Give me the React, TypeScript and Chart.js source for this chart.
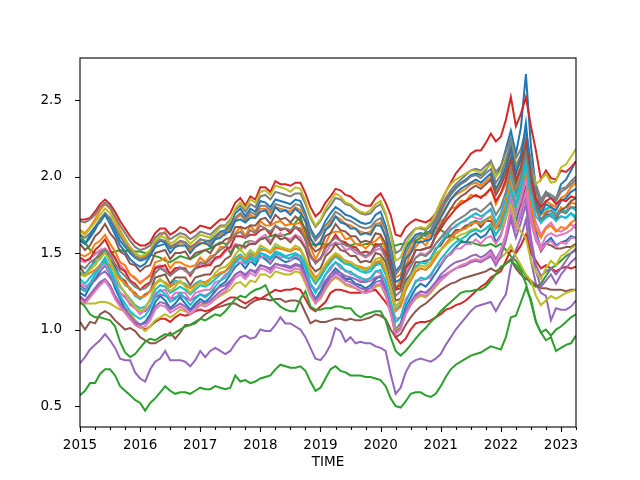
import { useEffect, useRef } from 'react'
import { Chart, registerables } from 'chart.js'

Chart.register(...registerables)

// monthly values, Jan 2015 .. Apr 2023 (100 months)
const blueA = [1.58,1.56,1.60,1.65,1.72,1.76,1.72,1.65,1.58,1.54,1.50,1.47,
  1.45,1.46,1.49,1.55,1.58,1.57,1.53,1.55,1.58,1.57,1.53,1.56,
  1.59,1.58,1.58,1.61,1.64,1.65,1.69,1.76,1.79,1.74,1.79,1.77,
  1.84,1.83,1.80,1.85,1.84,1.83,1.82,1.85,1.84,1.76,1.66,1.60,
  1.64,1.71,1.76,1.80,1.78,1.75,1.74,1.72,1.70,1.69,1.70,1.75,
  1.77,1.68,1.55,1.38,1.42,1.53,1.58,1.62,1.63,1.62,1.65,1.71,
  1.78,1.84,1.89,1.93,1.96,1.98,2.01,2.02,2.01,2.04,2.10,2.00,
  2.06,2.18,2.30,2.15,2.32,2.67,2.20,1.92,1.82,1.90,1.86,1.85,
  1.95,1.98,2.04,2.10]
const orangeA = [1.65,1.63,1.67,1.72,1.78,1.82,1.79,1.72,1.65,1.59,1.54,1.50,
  1.47,1.48,1.51,1.57,1.61,1.64,1.55,1.54,1.57,1.56,1.52,1.55,
  1.57,1.56,1.56,1.59,1.62,1.62,1.66,1.72,1.75,1.71,1.75,1.73,
  1.79,1.79,1.76,1.80,1.79,1.78,1.77,1.80,1.78,1.70,1.60,1.54,
  1.58,1.65,1.70,1.74,1.72,1.69,1.68,1.66,1.64,1.63,1.64,1.69,
  1.70,1.60,1.47,1.34,1.36,1.47,1.53,1.58,1.60,1.59,1.62,1.68,
  1.75,1.80,1.85,1.88,1.90,1.92,1.95,1.96,1.94,1.97,2.00,1.90,
  1.96,2.05,2.18,2.02,2.10,2.24,2.00,1.85,1.78,1.84,1.82,1.80,
  1.86,1.88,1.93,1.96]
const greenA = [1.62,1.57,1.52,1.50,1.51,1.52,1.50,1.51,1.52,1.51,1.52,1.51,
  1.51,1.50,1.49,1.48,1.47,1.45,1.44,1.46,1.48,1.47,1.46,1.48,
  1.50,1.52,1.53,1.55,1.57,1.56,1.50,1.55,1.52,1.57,1.58,1.57,
  1.59,1.60,1.61,1.62,1.61,1.62,1.63,1.70,1.74,1.62,1.56,1.55,
  1.56,1.56,1.55,1.56,1.56,1.56,1.55,1.56,1.55,1.56,1.56,1.55,
  1.56,1.56,1.55,1.55,1.56,1.56,1.57,1.58,1.60,1.64,1.63,1.67,
  1.65,1.63,1.61,1.60,1.58,1.57,1.57,1.56,1.55,1.55,1.56,1.54,
  1.56,1.52,1.48,1.45,1.40,1.35,1.30,1.28,1.30,1.35,1.40,1.42,
  1.45,1.48,1.50,1.52]
const redA = [1.72,1.72,1.73,1.77,1.82,1.85,1.82,1.77,1.71,1.66,1.61,1.57,
  1.55,1.55,1.57,1.63,1.66,1.66,1.62,1.64,1.67,1.66,1.63,1.65,
  1.68,1.67,1.66,1.69,1.72,1.72,1.76,1.83,1.86,1.81,1.87,1.85,
  1.93,1.93,1.90,1.97,1.95,1.95,1.94,1.96,1.96,1.89,1.80,1.74,
  1.77,1.83,1.87,1.92,1.91,1.88,1.87,1.84,1.82,1.81,1.81,1.86,
  1.89,1.83,1.75,1.62,1.61,1.67,1.70,1.72,1.71,1.70,1.72,1.76,
  1.83,1.90,1.96,2.02,2.06,2.10,2.15,2.17,2.17,2.22,2.28,2.23,
  2.26,2.37,2.52,2.33,2.41,2.52,2.33,2.17,1.98,2.04,1.99,1.98,
  2.04,2.03,2.06,2.10]
const purpleA = [0.78,0.82,0.87,0.90,0.93,0.97,0.93,0.88,0.81,0.80,0.80,0.72,
  0.68,0.66,0.74,0.79,0.81,0.86,0.80,0.80,0.80,0.79,0.76,0.80,
  0.86,0.82,0.86,0.88,0.86,0.84,0.86,0.91,0.95,0.96,0.94,0.95,
  1.00,0.99,0.99,1.03,1.08,1.04,1.04,1.02,1.00,0.95,0.88,0.81,
  0.80,0.84,0.90,1.01,0.99,0.92,0.95,0.91,0.92,0.91,0.91,0.89,
  0.88,0.86,0.71,0.58,0.62,0.72,0.78,0.80,0.81,0.80,0.79,0.81,
  0.84,0.90,0.95,1.00,1.04,1.08,1.12,1.15,1.16,1.17,1.18,1.12,
  1.18,1.23,1.41,1.52,1.60,1.72,1.45,1.30,1.24,1.22,1.06,1.14,
  1.13,1.13,1.15,1.19]
const brownA = [1.05,1.00,1.05,1.04,1.10,1.12,1.10,1.06,1.03,1.00,1.01,0.99,
  0.95,0.93,0.91,0.91,0.93,0.95,0.98,0.94,0.98,1.03,1.03,1.04,
  1.07,1.10,1.12,1.14,1.15,1.16,1.17,1.17,1.15,1.14,1.17,1.19,
  1.20,1.20,1.19,1.20,1.20,1.18,1.19,1.19,1.18,1.11,1.04,1.06,
  1.05,1.05,1.06,1.07,1.07,1.06,1.07,1.06,1.06,1.07,1.08,1.10,
  1.09,1.07,1.00,0.95,0.97,1.03,1.08,1.12,1.15,1.17,1.20,1.23,
  1.26,1.28,1.30,1.31,1.33,1.34,1.35,1.36,1.37,1.38,1.40,1.38,
  1.40,1.43,1.46,1.40,1.36,1.33,1.32,1.29,1.27,1.27,1.26,1.26,
  1.26,1.25,1.26,1.26]
const pinkA = [1.45,1.44,1.47,1.49,1.52,1.53,1.50,1.46,1.42,1.39,1.36,1.33,
  1.31,1.33,1.36,1.41,1.42,1.39,1.37,1.40,1.41,1.38,1.37,1.40,
  1.43,1.41,1.44,1.46,1.47,1.51,1.53,1.56,1.55,1.53,1.58,1.57,
  1.60,1.62,1.58,1.61,1.63,1.60,1.59,1.62,1.60,1.54,1.47,1.44,
  1.47,1.50,1.55,1.57,1.56,1.52,1.53,1.50,1.49,1.47,1.49,1.52,
  1.53,1.47,1.38,1.28,1.30,1.37,1.42,1.47,1.50,1.49,1.52,1.56,
  1.60,1.62,1.66,1.67,1.70,1.71,1.74,1.73,1.72,1.76,1.78,1.70,
  1.74,1.82,1.92,1.80,1.88,1.98,1.82,1.70,1.62,1.67,1.70,1.65,
  1.64,1.66,1.69,1.66]
const grayA = [1.71,1.70,1.72,1.75,1.80,1.83,1.80,1.74,1.68,1.63,1.58,1.54,
  1.52,1.53,1.55,1.60,1.63,1.63,1.59,1.61,1.63,1.62,1.59,1.61,
  1.64,1.63,1.62,1.65,1.68,1.68,1.72,1.78,1.81,1.77,1.82,1.80,
  1.87,1.88,1.85,1.90,1.89,1.88,1.87,1.89,1.89,1.82,1.73,1.67,
  1.71,1.77,1.81,1.86,1.85,1.82,1.81,1.78,1.76,1.75,1.76,1.80,
  1.82,1.75,1.64,1.50,1.52,1.59,1.63,1.66,1.66,1.65,1.68,1.73,
  1.80,1.86,1.91,1.95,1.98,2.01,2.04,2.05,2.04,2.07,2.10,2.03,
  2.07,2.16,2.25,2.12,2.18,2.30,2.10,1.95,1.85,1.90,1.88,1.86,
  1.92,1.93,1.97,2.00]
const oliveA = [1.64,1.62,1.66,1.70,1.75,1.79,1.76,1.70,1.63,1.58,1.53,1.50,
  1.48,1.49,1.52,1.58,1.61,1.60,1.56,1.58,1.61,1.60,1.56,1.59,
  1.62,1.61,1.60,1.63,1.67,1.67,1.71,1.79,1.83,1.79,1.85,1.83,
  1.90,1.91,1.88,1.94,1.93,1.92,1.90,1.93,1.92,1.84,1.74,1.68,
  1.72,1.79,1.84,1.89,1.87,1.83,1.82,1.79,1.77,1.76,1.78,1.82,
  1.84,1.76,1.62,1.45,1.47,1.56,1.61,1.66,1.67,1.66,1.70,1.76,
  1.84,1.90,1.95,1.98,2.00,2.02,2.04,2.04,2.02,2.05,2.08,2.00,
  2.04,2.12,2.22,2.08,2.14,2.25,2.05,1.95,1.98,2.02,1.96,1.97,
  2.06,2.08,2.13,2.18]
const cyanA = [1.33,1.30,1.34,1.38,1.42,1.47,1.40,1.33,1.28,1.24,1.20,1.16,
  1.14,1.15,1.19,1.26,1.29,1.28,1.24,1.26,1.28,1.26,1.23,1.26,
  1.29,1.28,1.30,1.33,1.36,1.38,1.42,1.47,1.49,1.46,1.50,1.48,
  1.53,1.52,1.50,1.54,1.53,1.52,1.51,1.53,1.52,1.45,1.36,1.30,
  1.34,1.40,1.45,1.48,1.46,1.43,1.42,1.40,1.38,1.37,1.38,1.42,
  1.43,1.36,1.25,1.13,1.16,1.26,1.32,1.38,1.40,1.39,1.42,1.47,
  1.52,1.56,1.60,1.63,1.65,1.67,1.70,1.71,1.70,1.72,1.74,1.67,
  1.72,1.80,1.93,1.82,1.95,2.13,1.93,1.80,1.72,1.74,1.76,1.72,
  1.74,1.73,1.76,1.74]
const blueB = [1.24,1.22,1.28,1.33,1.38,1.42,1.36,1.27,1.20,1.14,1.10,1.06,
  1.03,1.05,1.10,1.18,1.22,1.19,1.14,1.17,1.21,1.17,1.13,1.17,
  1.20,1.18,1.21,1.25,1.29,1.31,1.36,1.41,1.44,1.40,1.45,1.42,
  1.48,1.46,1.43,1.48,1.46,1.44,1.45,1.47,1.45,1.36,1.26,1.20,
  1.25,1.31,1.36,1.40,1.37,1.33,1.33,1.30,1.29,1.27,1.29,1.33,
  1.35,1.27,1.14,1.00,1.04,1.15,1.21,1.27,1.30,1.28,1.32,1.37,
  1.42,1.47,1.50,1.54,1.57,1.57,1.61,1.63,1.60,1.62,1.67,1.57,
  1.62,1.73,1.86,1.70,1.83,2.02,1.78,1.64,1.53,1.57,1.60,1.55,
  1.57,1.58,1.61,1.60]
const orangeB = [1.49,1.48,1.50,1.56,1.58,1.62,1.56,1.51,1.44,1.42,1.36,1.34,
  1.30,1.33,1.35,1.44,1.45,1.47,1.40,1.44,1.44,1.42,1.41,1.42,
  1.47,1.44,1.48,1.49,1.54,1.54,1.60,1.63,1.67,1.61,1.68,1.64,
  1.71,1.68,1.68,1.70,1.71,1.68,1.69,1.69,1.70,1.60,1.54,1.46,
  1.52,1.56,1.63,1.64,1.64,1.59,1.60,1.56,1.56,1.53,1.56,1.58,
  1.61,1.52,1.42,1.27,1.32,1.41,1.50,1.54,1.58,1.55,1.60,1.63,
  1.71,1.73,1.79,1.80,1.84,1.84,1.88,1.87,1.87,1.88,1.93,1.82,
  1.89,1.95,2.09,1.94,2.04,2.14,1.96,1.81,1.75,1.77,1.81,1.75,
  1.80,1.77,1.83,1.82]
const greenB = [0.57,0.60,0.65,0.65,0.71,0.74,0.74,0.70,0.63,0.60,0.57,0.54,
  0.52,0.47,0.52,0.55,0.59,0.63,0.60,0.58,0.59,0.59,0.58,0.60,
  0.62,0.61,0.61,0.63,0.62,0.61,0.62,0.70,0.66,0.67,0.65,0.66,
  0.68,0.69,0.70,0.74,0.77,0.76,0.75,0.75,0.76,0.73,0.66,0.60,
  0.62,0.68,0.74,0.76,0.73,0.72,0.70,0.70,0.70,0.69,0.69,0.68,
  0.67,0.63,0.55,0.50,0.49,0.53,0.58,0.59,0.59,0.57,0.56,0.58,
  0.63,0.69,0.74,0.77,0.79,0.81,0.83,0.84,0.85,0.87,0.89,0.88,
  0.87,0.95,1.08,1.09,1.18,1.27,1.20,1.05,0.98,0.93,0.95,0.86,
  0.88,0.90,0.91,0.96]
const redB = [1.21,1.18,1.22,1.26,1.30,1.32,1.28,1.22,1.16,1.11,1.07,1.04,
  1.02,1.00,1.02,1.05,1.07,1.07,1.05,1.08,1.10,1.09,1.10,1.12,
  1.13,1.12,1.13,1.15,1.17,1.19,1.21,1.21,1.19,1.17,1.19,1.21,
  1.20,1.22,1.24,1.26,1.25,1.26,1.26,1.27,1.26,1.20,1.14,1.12,
  1.15,1.18,1.24,1.26,1.26,1.25,1.24,1.24,1.24,1.25,1.25,1.26,
  1.22,1.18,1.13,0.95,0.91,0.94,1.00,1.04,1.05,1.05,1.06,1.08,
  1.10,1.13,1.14,1.16,1.17,1.19,1.22,1.25,1.28,1.30,1.34,1.36,
  1.38,1.45,1.52,1.50,1.55,1.62,1.50,1.45,1.40,1.42,1.40,1.38,
  1.40,1.41,1.40,1.41]
const purpleB = [1.29,1.26,1.30,1.32,1.36,1.38,1.34,1.29,1.24,1.21,1.17,1.14,
  1.12,1.12,1.16,1.21,1.23,1.22,1.20,1.21,1.22,1.21,1.19,1.21,
  1.23,1.22,1.24,1.26,1.28,1.29,1.32,1.36,1.38,1.36,1.39,1.38,
  1.42,1.41,1.40,1.43,1.42,1.42,1.41,1.43,1.42,1.36,1.29,1.25,
  1.28,1.32,1.36,1.38,1.37,1.35,1.34,1.33,1.31,1.31,1.32,1.34,
  1.35,1.27,1.13,0.99,1.03,1.12,1.18,1.23,1.25,1.24,1.27,1.31,
  1.36,1.39,1.42,1.44,1.45,1.46,1.48,1.49,1.47,1.49,1.52,1.46,
  1.52,1.62,1.75,1.65,1.75,1.88,1.60,1.42,1.35,1.38,1.40,1.36,
  1.40,1.45,1.50,1.53]
const brownB = [1.41,1.36,1.40,1.46,1.48,1.52,1.46,1.41,1.34,1.32,1.26,1.24,
  1.20,1.23,1.25,1.34,1.35,1.36,1.30,1.34,1.34,1.34,1.29,1.34,
  1.35,1.36,1.36,1.41,1.42,1.46,1.48,1.55,1.55,1.54,1.56,1.56,
  1.59,1.60,1.56,1.62,1.59,1.60,1.57,1.61,1.58,1.53,1.42,1.38,
  1.40,1.48,1.51,1.56,1.52,1.51,1.48,1.48,1.44,1.45,1.44,1.50,
  1.49,1.44,1.30,1.19,1.20,1.32,1.36,1.44,1.44,1.45,1.46,1.53,
  1.55,1.60,1.61,1.65,1.65,1.68,1.68,1.71,1.67,1.71,1.71,1.66,
  1.69,1.78,1.87,1.77,1.81,1.93,1.71,1.61,1.51,1.56,1.55,1.53,
  1.53,1.54,1.54,1.56]
const pinkB = [1.31,1.28,1.30,1.36,1.39,1.43,1.37,1.32,1.24,1.22,1.16,1.14,
  1.10,1.13,1.15,1.24,1.25,1.26,1.20,1.24,1.24,1.24,1.19,1.24,
  1.25,1.26,1.26,1.31,1.32,1.36,1.37,1.44,1.44,1.43,1.45,1.45,
  1.47,1.48,1.44,1.50,1.47,1.48,1.45,1.49,1.46,1.41,1.30,1.26,
  1.28,1.36,1.39,1.44,1.40,1.39,1.36,1.36,1.32,1.33,1.32,1.38,
  1.37,1.32,1.18,1.07,1.08,1.20,1.24,1.32,1.32,1.33,1.34,1.41,
  1.43,1.48,1.49,1.53,1.53,1.56,1.56,1.59,1.56,1.60,1.61,1.56,
  1.61,1.73,1.87,1.75,1.85,1.99,1.74,1.61,1.54,1.61,1.63,1.61,
  1.62,1.63,1.65,1.69]
const grayB = [1.62,1.60,1.63,1.67,1.72,1.76,1.73,1.67,1.61,1.56,1.52,1.48,
  1.46,1.47,1.50,1.56,1.59,1.58,1.54,1.56,1.58,1.57,1.54,1.56,
  1.59,1.58,1.57,1.60,1.63,1.64,1.67,1.73,1.76,1.72,1.77,1.75,
  1.81,1.81,1.78,1.82,1.81,1.80,1.79,1.82,1.81,1.74,1.64,1.58,
  1.62,1.68,1.72,1.77,1.75,1.72,1.71,1.69,1.67,1.66,1.67,1.71,
  1.73,1.65,1.52,1.36,1.40,1.50,1.56,1.60,1.62,1.61,1.64,1.70,
  1.77,1.83,1.88,1.92,1.95,1.97,2.00,2.01,1.99,2.02,2.05,1.96,
  2.01,2.10,2.22,2.06,2.14,2.28,2.05,1.90,1.82,1.88,1.86,1.84,
  1.90,1.92,1.95,1.98]
const oliveB = [1.17,1.17,1.17,1.17,1.18,1.18,1.17,1.15,1.13,1.12,1.11,1.06,
  1.02,0.99,1.02,1.06,1.08,1.10,1.08,1.10,1.13,1.12,1.10,1.13,
  1.16,1.17,1.18,1.20,1.22,1.24,1.26,1.30,1.31,1.28,1.32,1.31,
  1.36,1.36,1.34,1.38,1.37,1.36,1.36,1.38,1.37,1.30,1.22,1.17,
  1.20,1.26,1.31,1.34,1.32,1.29,1.28,1.27,1.25,1.24,1.25,1.28,
  1.29,1.22,1.12,1.00,1.02,1.10,1.16,1.20,1.22,1.21,1.24,1.28,
  1.32,1.35,1.38,1.40,1.42,1.43,1.45,1.46,1.45,1.46,1.48,1.44,
  1.47,1.50,1.55,1.48,1.42,1.36,1.32,1.22,1.16,1.19,1.22,1.20,
  1.22,1.24,1.25,1.26]
const cyanB = [1.37,1.36,1.41,1.44,1.46,1.51,1.44,1.39,1.35,1.29,1.27,1.22,
  1.20,1.22,1.25,1.30,1.33,1.30,1.28,1.32,1.31,1.30,1.27,1.30,
  1.32,1.30,1.33,1.35,1.37,1.38,1.41,1.45,1.47,1.44,1.48,1.46,
  1.50,1.49,1.47,1.51,1.50,1.48,1.49,1.50,1.48,1.43,1.35,1.30,
  1.35,1.40,1.44,1.48,1.45,1.43,1.43,1.40,1.40,1.38,1.40,1.43,
  1.44,1.37,1.27,1.15,1.18,1.29,1.35,1.41,1.44,1.43,1.47,1.52,
  1.57,1.61,1.65,1.68,1.70,1.72,1.74,1.76,1.74,1.76,1.79,1.70,
  1.76,1.86,2.00,1.87,1.98,2.18,1.95,1.82,1.76,1.79,1.80,1.76,
  1.78,1.77,1.80,1.78]
const blueC = [1.59,1.56,1.62,1.67,1.70,1.75,1.69,1.62,1.55,1.51,1.46,1.43,
  1.41,1.43,1.48,1.54,1.55,1.56,1.50,1.54,1.55,1.55,1.50,1.54,
  1.56,1.57,1.54,1.59,1.60,1.63,1.64,1.71,1.72,1.70,1.73,1.73,
  1.77,1.78,1.73,1.80,1.77,1.78,1.75,1.79,1.76,1.71,1.59,1.55,
  1.57,1.65,1.68,1.74,1.70,1.69,1.66,1.66,1.62,1.63,1.62,1.68,
  1.68,1.61,1.46,1.31,1.33,1.46,1.50,1.57,1.57,1.58,1.59,1.67,
  1.73,1.79,1.85,1.89,1.92,1.94,1.96,1.98,1.96,1.99,2.02,1.92,
  1.98,2.06,2.18,2.02,2.12,2.35,2.00,1.84,1.76,1.82,1.80,1.78,
  1.84,1.86,1.90,1.92]
const orangeC = [1.36,1.35,1.37,1.39,1.42,1.44,1.42,1.37,1.33,1.30,1.27,1.23,
  1.21,1.22,1.25,1.30,1.32,1.31,1.28,1.30,1.31,1.29,1.27,1.29,
  1.31,1.31,1.33,1.35,1.37,1.38,1.42,1.46,1.48,1.46,1.49,1.48,
  1.52,1.52,1.50,1.53,1.53,1.52,1.51,1.53,1.52,1.46,1.39,1.34,
  1.37,1.42,1.46,1.49,1.47,1.45,1.44,1.42,1.41,1.40,1.41,1.44,
  1.45,1.38,1.26,1.12,1.15,1.26,1.32,1.38,1.40,1.39,1.42,1.47,
  1.52,1.56,1.60,1.63,1.65,1.66,1.69,1.70,1.69,1.71,1.74,1.66,
  1.72,1.82,1.96,1.80,1.92,2.05,1.82,1.66,1.60,1.66,1.68,1.64,
  1.67,1.66,1.70,1.72]
const greenC = [1.18,1.15,1.10,1.08,1.08,1.07,1.06,1.02,0.92,0.85,0.82,0.84,
  0.88,0.92,0.94,0.93,0.95,0.97,0.96,0.98,1.00,1.02,1.03,1.05,
  1.07,1.06,1.08,1.10,1.09,1.12,1.16,1.20,1.22,1.21,1.24,1.26,
  1.27,1.29,1.22,1.18,1.15,1.13,1.12,1.12,1.20,1.25,1.15,1.13,
  1.13,1.14,1.14,1.15,1.15,1.14,1.14,1.10,1.08,1.10,1.11,1.12,
  1.12,1.06,0.95,0.86,0.83,0.86,0.90,0.94,0.98,1.01,1.05,1.08,
  1.12,1.15,1.18,1.21,1.24,1.25,1.25,1.26,1.26,1.28,1.32,1.36,
  1.41,1.43,1.45,1.42,1.38,1.30,1.18,1.05,0.98,1.00,0.96,1.00,
  1.02,1.05,1.08,1.10]
const redC = [1.47,1.45,1.46,1.52,1.55,1.59,1.52,1.47,1.40,1.38,1.32,1.30,
  1.26,1.29,1.31,1.40,1.41,1.42,1.36,1.40,1.40,1.40,1.35,1.40,
  1.41,1.42,1.42,1.47,1.48,1.52,1.54,1.61,1.61,1.60,1.62,1.62,
  1.65,1.66,1.62,1.68,1.65,1.66,1.63,1.67,1.64,1.59,1.48,1.44,
  1.46,1.54,1.57,1.62,1.58,1.57,1.54,1.54,1.50,1.51,1.50,1.56,
  1.55,1.50,1.37,1.26,1.27,1.40,1.44,1.52,1.52,1.53,1.54,1.61,
  1.66,1.71,1.75,1.79,1.82,1.84,1.86,1.88,1.86,1.89,1.92,1.84,
  1.89,1.98,2.12,1.98,2.06,2.22,1.98,1.86,1.80,1.84,1.86,1.82,
  1.85,1.84,1.87,1.86]
const purpleC = [1.22,1.19,1.23,1.27,1.31,1.33,1.29,1.22,1.17,1.13,1.09,1.05,
  1.03,1.04,1.08,1.15,1.18,1.17,1.13,1.15,1.17,1.15,1.12,1.15,
  1.18,1.17,1.19,1.22,1.25,1.27,1.31,1.36,1.38,1.35,1.39,1.37,
  1.42,1.41,1.39,1.43,1.42,1.41,1.40,1.42,1.41,1.34,1.25,1.19,
  1.23,1.29,1.34,1.37,1.35,1.32,1.31,1.29,1.27,1.26,1.27,1.31,
  1.32,1.25,1.12,0.98,1.01,1.11,1.17,1.22,1.25,1.24,1.27,1.31,
  1.34,1.36,1.38,1.40,1.41,1.42,1.44,1.45,1.44,1.46,1.48,1.42,
  1.48,1.58,1.72,1.60,1.70,1.82,1.55,1.38,1.28,1.32,1.36,1.30,
  1.36,1.40,1.44,1.47]
const brownC = [1.56,1.52,1.55,1.61,1.64,1.69,1.63,1.59,1.51,1.49,1.43,1.42,
  1.38,1.41,1.42,1.50,1.51,1.52,1.46,1.50,1.50,1.51,1.46,1.50,
  1.51,1.52,1.50,1.55,1.56,1.59,1.60,1.67,1.67,1.66,1.68,1.68,
  1.72,1.73,1.69,1.75,1.72,1.73,1.70,1.74,1.71,1.66,1.55,1.51,
  1.53,1.61,1.63,1.69,1.65,1.64,1.61,1.61,1.57,1.58,1.57,1.63,
  1.62,1.56,1.41,1.27,1.29,1.41,1.45,1.52,1.52,1.53,1.54,1.62,
  1.68,1.74,1.79,1.84,1.87,1.89,1.92,1.94,1.92,1.95,1.98,1.88,
  1.94,2.02,2.12,1.96,2.05,2.20,1.95,1.80,1.70,1.76,1.74,1.72,
  1.78,1.80,1.84,1.86]
const pinkC = [1.20,1.17,1.21,1.25,1.29,1.32,1.27,1.20,1.15,1.11,1.07,1.03,
  1.01,1.02,1.06,1.13,1.16,1.15,1.11,1.13,1.15,1.13,1.10,1.13,
  1.16,1.15,1.17,1.20,1.23,1.25,1.29,1.34,1.36,1.33,1.37,1.35,
  1.40,1.39,1.37,1.41,1.40,1.39,1.38,1.40,1.39,1.32,1.23,1.17,
  1.21,1.27,1.32,1.35,1.33,1.30,1.29,1.27,1.25,1.24,1.25,1.29,
  1.30,1.23,1.10,0.97,1.00,1.10,1.16,1.21,1.23,1.22,1.25,1.29,
  1.32,1.35,1.38,1.40,1.42,1.43,1.45,1.46,1.45,1.47,1.50,1.44,
  1.52,1.62,1.80,1.66,1.78,1.90,1.70,1.58,1.52,1.56,1.58,1.54,
  1.57,1.56,1.60,1.60]
const grayC = [1.42,1.40,1.44,1.46,1.50,1.52,1.49,1.43,1.38,1.35,1.31,1.28,
  1.26,1.27,1.30,1.37,1.40,1.38,1.35,1.38,1.40,1.39,1.36,1.40,
  1.44,1.43,1.46,1.49,1.52,1.54,1.58,1.62,1.64,1.60,1.65,1.63,
  1.68,1.66,1.64,1.68,1.66,1.66,1.65,1.67,1.66,1.58,1.49,1.43,
  1.46,1.53,1.57,1.60,1.58,1.55,1.54,1.52,1.50,1.48,1.50,1.54,
  1.55,1.47,1.36,1.22,1.25,1.35,1.41,1.47,1.49,1.48,1.51,1.56,
  1.60,1.64,1.68,1.71,1.73,1.75,1.78,1.79,1.77,1.80,1.83,1.75,
  1.80,1.90,2.05,1.90,2.00,2.15,1.92,1.78,1.72,1.76,1.78,1.74,
  1.77,1.76,1.80,1.80]
const oliveC = [1.36,1.35,1.39,1.42,1.47,1.50,1.45,1.36,1.29,1.24,1.19,1.15,
  1.12,1.14,1.20,1.29,1.33,1.30,1.25,1.28,1.32,1.28,1.24,1.28,
  1.31,1.29,1.32,1.37,1.40,1.41,1.44,1.49,1.53,1.48,1.52,1.49,
  1.55,1.53,1.51,1.56,1.54,1.53,1.52,1.55,1.53,1.46,1.37,1.32,
  1.38,1.43,1.47,1.50,1.48,1.44,1.44,1.42,1.40,1.39,1.41,1.46,
  1.47,1.40,1.28,1.15,1.19,1.29,1.34,1.40,1.42,1.41,1.44,1.50,
  1.52,1.55,1.58,1.60,1.62,1.63,1.65,1.66,1.64,1.66,1.68,1.62,
  1.66,1.74,1.82,1.70,1.64,1.60,1.45,1.38,1.33,1.40,1.45,1.42,
  1.48,1.50,1.53,1.55]
const cyanC = [1.27,1.25,1.30,1.36,1.41,1.45,1.39,1.30,1.22,1.17,1.12,1.09,
  1.07,1.09,1.14,1.22,1.26,1.23,1.18,1.20,1.24,1.20,1.16,1.20,
  1.23,1.21,1.24,1.28,1.32,1.34,1.39,1.44,1.47,1.43,1.47,1.44,
  1.50,1.48,1.46,1.50,1.49,1.47,1.47,1.49,1.48,1.40,1.30,1.24,
  1.30,1.36,1.41,1.44,1.42,1.38,1.38,1.35,1.34,1.32,1.34,1.38,
  1.39,1.31,1.19,1.05,1.08,1.18,1.25,1.31,1.34,1.33,1.36,1.41,
  1.46,1.50,1.54,1.57,1.59,1.61,1.64,1.65,1.64,1.66,1.69,1.62,
  1.68,1.78,1.92,1.80,1.92,2.08,1.86,1.74,1.70,1.73,1.75,1.71,
  1.74,1.73,1.76,1.72]

const series = [
  blueA, orangeA, greenA, redA, purpleA, brownA, pinkA, grayA, oliveA, cyanA,
  blueB, orangeB, greenB, redB, purpleB, brownB, pinkB, grayB, oliveB, cyanB,
  blueC, orangeC, greenC, redC, purpleC, brownC, pinkC, grayC, oliveC, cyanC,
]

const firstYear = 2015
const yTicks = [0.5, 1.0, 1.5, 2.0, 2.5]
const palette = ['#1f77b4', '#ff7f0e', '#2ca02c', '#d62728', '#9467bd',
  '#8c564b', '#e377c2', '#7f7f7f', '#bcbd22', '#17becf']

const font = { family: 'DejaVu Sans', size: 13.5 }

// matplotlib-style box and outward ticks (major yearly, minor quarterly)
const frame = {
  id: 'frame',
  afterDatasetsDraw(chart: Chart) {
    const { ctx, chartArea: a, scales } = chart
    const x = scales.x
    const y = scales.y
    ctx.save()
    ctx.strokeStyle = '#000'
    ctx.lineWidth = 1.1
    ctx.strokeRect(a.left, a.top, a.right - a.left, a.bottom - a.top)
    ctx.beginPath()
    for (const t of x.ticks) {
      const px = Math.round(x.getPixelForValue(t.value)) + 0.5
      const len = t.value % 12 === 0 ? 5 : 3
      ctx.moveTo(px, a.bottom)
      ctx.lineTo(px, a.bottom + len)
    }
    for (const t of y.ticks) {
      const py = Math.round(y.getPixelForValue(t.value)) + 0.5
      ctx.moveTo(a.left, py)
      ctx.lineTo(a.left - 5, py)
    }
    ctx.stroke()
    ctx.restore()
  },
}

export default function App() {
  const canvasRef = useRef<HTMLCanvasElement>(null)

  useEffect(() => {
    document.body.style.margin = '0'
    if (!canvasRef.current) return
    const last = series[0].length - 1

    const chart = new Chart(canvasRef.current, {
      type: 'line',
      data: {
        datasets: series.map((vals, i) => ({
          data: vals.map((v, m) => ({ x: m, y: v })),
          borderColor: palette[i % palette.length],
          borderWidth: 2,
          pointRadius: 0,
          tension: 0,
          fill: false,
          order: series.length - i,
        })),
      },
      options: {
        animation: false,
        responsive: false,
        devicePixelRatio: 1,
        layout: { padding: { left: 0, top: 58, right: 64, bottom: 0 } },
        plugins: { legend: { display: false }, tooltip: { enabled: false } },
        scales: {
          x: {
            type: 'linear',
            min: 0,
            max: last,
            grid: { display: false },
            border: { display: false },
            afterBuildTicks: (s) => {
              const ticks = []
              for (let m = 0; m <= last; m += 3) ticks.push({ value: m })
              s.ticks = ticks
            },
            afterFit: (s) => { s.height = 53 },
            ticks: {
              autoSkip: false,
              maxRotation: 0,
              padding: 2,
              color: '#000',
              font,
              callback: (v) => (Number(v) % 12 === 0 ? String(firstYear + Number(v) / 12) : ''),
            },
            title: {
              display: true,
              text: 'TIME',
              color: '#000',
              font,
              padding: { top: 0, bottom: 9 },
            },
          },
          y: {
            type: 'linear',
            min: 0.363,
            max: 2.775,
            grid: { display: false },
            border: { display: false },
            afterBuildTicks: (s) => { s.ticks = yTicks.map((value) => ({ value })) },
            afterFit: (s) => { s.width = 80 },
            ticks: {
              padding: 10,
              color: '#000',
              font,
              callback: (v) => Number(v).toFixed(1),
            },
          },
        },
      },
      plugins: [frame],
    })

    return () => chart.destroy()
  }, [])

  return <canvas ref={canvasRef} width={640} height={480} style={{ display: 'block' }} />
}
